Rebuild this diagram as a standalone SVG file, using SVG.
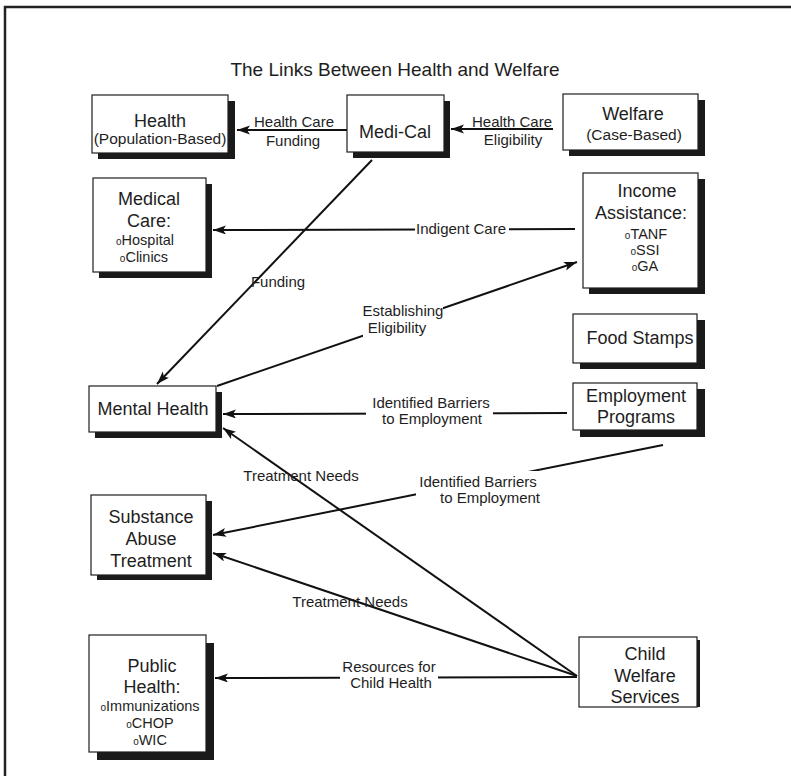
<svg xmlns="http://www.w3.org/2000/svg" width="791" height="776" viewBox="0 0 791 776">
<style>
text{font-family:"Liberation Sans",Arial,sans-serif;fill:#1e1e1e;text-anchor:middle}
.t{font-size:19px}
.n{font-size:18px}
.s{font-size:15.5px}
.b{font-size:14.5px}
.o{font-size:10px}
.lbl{font-size:15px}
.box{fill:#fff;stroke:#1e1e1e;stroke-width:1.2}
.sh{fill:#1a1a1a}
.c{stroke:#111;stroke-width:2;fill:none}
.a{marker-end:url(#ah)}
.bg{fill:#fff}
</style>
<defs>
<marker id="ah" markerWidth="14" markerHeight="10" refX="13" refY="4.5" orient="auto" markerUnits="userSpaceOnUse">
<path d="M0,0 L13,4.5 L0,9 L3,4.5 z" fill="#111"/>
</marker>
</defs>
<rect width="791" height="776" fill="#fff"/>
<path d="M5,800 V7 H795" fill="none" stroke="#222" stroke-width="2.5"/>
<text class="t" x="395" y="76">The Links Between Health and Welfare</text>

<g id="connectors">
<line class="c a" x1="347" y1="130" x2="237" y2="130"/>
<line class="c a" x1="553" y1="129" x2="451" y2="129"/>
<line class="c a" x1="575" y1="229" x2="213" y2="230"/>
<line class="c a" x1="372" y1="160" x2="157" y2="384"/>
<line class="c a" x1="217" y1="386" x2="577" y2="262"/>
<line class="c a" x1="567" y1="413" x2="223" y2="414"/>
<line class="c a" x1="663" y1="445" x2="213" y2="535"/>
<line class="c a" x1="577" y1="676" x2="223" y2="428"/>
<line class="c a" x1="577" y1="676" x2="213" y2="553"/>
<line class="c a" x1="577" y1="677" x2="215" y2="678"/>
</g>

<g id="labels">
<text class="lbl" x="294" y="127">Health Care</text>
<text class="lbl" x="293" y="146">Funding</text>
<text class="lbl" x="512" y="127">Health Care</text>
<text class="lbl" x="513" y="145">Eligibility</text>
<rect class="bg" x="415" y="220" width="94" height="17"/>
<text class="lbl" x="461" y="234">Indigent Care</text>
<text class="lbl" x="278" y="287">Funding</text>
<rect class="bg" x="363" y="301" width="80" height="36"/>
<text class="lbl" x="403" y="316">Establishing</text>
<text class="lbl" x="397" y="333">Eligibility</text>
<rect class="bg" x="366" y="393" width="127" height="34"/>
<text class="lbl" x="431" y="408">Identified Barriers</text>
<text class="lbl" x="432" y="424">to Employment</text>
<text class="lbl" x="301" y="481">Treatment Needs</text>
<rect class="bg" x="416" y="471" width="132" height="36"/>
<text class="lbl" x="478" y="487">Identified Barriers</text>
<text class="lbl" x="490" y="503">to Employment</text>
<text class="lbl" x="350" y="607">Treatment Needs</text>
<rect class="bg" x="340" y="660" width="98" height="32"/>
<text class="lbl" x="389" y="672">Resources for</text>
<text class="lbl" x="391" y="688">Child Health</text>
</g>

<g id="health">
<rect class="sh" x="98" y="101" width="137" height="58"/>
<rect class="box" x="92" y="95" width="136" height="58"/>
<text class="n" x="160" y="127">Health</text>
<text class="s" x="160" y="144">(Population-Based)</text>
</g>
<g id="medi-cal">
<rect class="sh" x="353" y="101" width="97" height="57"/>
<rect class="box" x="347" y="95" width="97" height="57"/>
<text class="n" x="395" y="138">Medi-Cal</text>
</g>
<g id="welfare">
<rect class="sh" x="569" y="100" width="136" height="56"/>
<rect class="box" x="563" y="94" width="135" height="56"/>
<text class="n" x="633" y="120">Welfare</text>
<text class="s" x="634" y="140">(Case-Based)</text>
</g>
<g id="medical-care">
<rect class="sh" x="99" y="184" width="113" height="94"/>
<rect class="box" x="93" y="178" width="113" height="94"/>
<text class="n" x="149" y="205">Medical</text>
<text class="n" x="149" y="227">Care:</text>
<text class="b" x="145" y="245"><tspan class="o">o</tspan>Hospital</text>
<text class="b" x="144" y="262"><tspan class="o">o</tspan>Clinics</text>
</g>
<g id="income-assistance">
<rect class="sh" x="589" y="179" width="116" height="115"/>
<rect class="box" x="583" y="173" width="115" height="115"/>
<text class="n" x="647" y="197">Income</text>
<text class="n" x="641" y="219">Assistance:</text>
<text class="b" x="646" y="239"><tspan class="o">o</tspan>TANF</text>
<text class="b" x="645" y="255"><tspan class="o">o</tspan>SSI</text>
<text class="b" x="645" y="271"><tspan class="o">o</tspan>GA</text>
</g>
<g id="food-stamps">
<rect class="sh" x="580" y="320" width="125" height="49"/>
<rect class="box" x="573" y="314" width="124" height="49"/>
<text class="n" x="640" y="344">Food Stamps</text>
</g>
<g id="employment-programs">
<rect class="sh" x="580" y="389" width="125" height="48"/>
<rect class="box" x="573" y="383" width="124" height="47"/>
<text class="n" x="636" y="402">Employment</text>
<text class="n" x="636" y="423">Programs</text>
</g>
<g id="mental-health">
<rect class="sh" x="95" y="392" width="127" height="46"/>
<rect class="box" x="89" y="386" width="127" height="46"/>
<text class="n" x="153" y="415">Mental Health</text>
</g>
<g id="substance-abuse">
<rect class="sh" x="97" y="501" width="115" height="79"/>
<rect class="box" x="91" y="495" width="115" height="80"/>
<text class="n" x="151" y="523">Substance</text>
<text class="n" x="151" y="545">Abuse</text>
<text class="n" x="151" y="567">Treatment</text>
</g>
<g id="public-health">
<rect class="sh" x="97" y="643" width="117" height="117"/>
<rect class="box" x="89" y="635" width="117" height="117"/>
<text class="n" x="152" y="672">Public</text>
<text class="n" x="152" y="693">Health:</text>
<text class="b" x="150" y="711"><tspan class="o">o</tspan>Immunizations</text>
<text class="b" x="150" y="728"><tspan class="o">o</tspan>CHOP</text>
<text class="b" x="150" y="745"><tspan class="o">o</tspan>WIC</text>
</g>
<g id="child-welfare">
<rect class="sh" x="582" y="640" width="118" height="67"/>
<rect class="box" x="579" y="637" width="118" height="70"/>
<text class="n" x="645" y="660">Child</text>
<text class="n" x="645" y="682">Welfare</text>
<text class="n" x="645" y="703">Services</text>
</g>
</svg>
